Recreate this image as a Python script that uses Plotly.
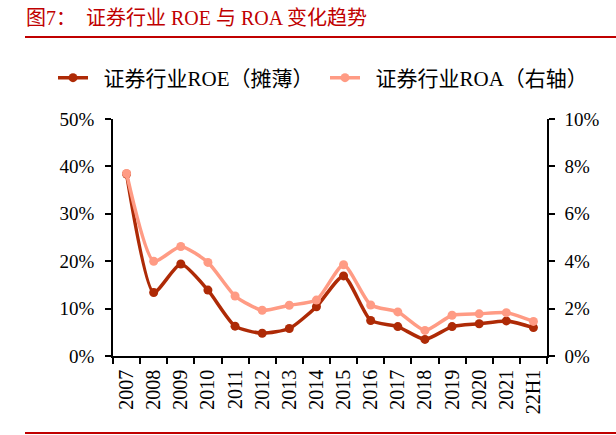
import plotly.graph_objects as go

# ── Data ──────────────────────────────────────────────────────────────────────
YEARS = ["2007", "2008", "2009", "2010", "2011", "2012", "2013", "2014",
         "2015", "2016", "2017", "2018", "2019", "2020", "2021", "22H1"]
ROE = [38.4, 13.4, 19.4, 13.9, 6.3, 4.8, 5.8, 10.4,
       16.9, 7.5, 6.2, 3.5, 6.2, 6.8, 7.4, 6.0]
ROA = [7.7, 4.0, 4.62, 3.95, 2.53, 1.93, 2.14, 2.36,
       3.85, 2.15, 1.86, 1.08, 1.72, 1.78, 1.83, 1.46]

COLOURS = {"ROE": "#AE2A06", "ROA": "#FF9B84", "Title": "#C00000"}

W, H = 616, 435
ML, MR, MT, MB = 113, 69, 119, 79
PW, PH = W - ML - MR, H - MT - MB


def px(x):
    return (x - ML) / PW


def py(y):
    return (H - MB - y) / PH


SERIF = "Liberation Serif, Noto Sans CJK SC, serif"
PAD = "\u00a0\u00a0"

fig = go.Figure()
fig.add_trace(go.Scatter(
    x=YEARS, y=ROA, name=PAD + "证券行业ROA（右轴）", mode="lines+markers", yaxis="y2",
    line=dict(color=COLOURS["ROA"], width=3.5, shape="spline", smoothing=0.6),
    marker=dict(size=9, color=COLOURS["ROA"]),
))
fig.add_trace(go.Scatter(
    x=YEARS, y=ROE, name=PAD + "证券行业ROE（摊薄）", mode="lines+markers",
    line=dict(color=COLOURS["ROE"], width=3.5, shape="spline", smoothing=0.6),
    marker=dict(size=9, color=COLOURS["ROE"]),
))

axis_common = dict(showgrid=False, zeroline=False, showline=True, linecolor="black",
                   linewidth=1.5, ticks="outside", ticklen=6, tickcolor="black",
                   tickwidth=1.5, automargin=False)

fig.update_layout(
    width=W, height=H,
    margin=dict(l=ML, r=MR, t=MT, b=MB, autoexpand=False),
    paper_bgcolor="white", plot_bgcolor="white",
    font=dict(family=SERIF, size=19, color="black"),
    showlegend=True,
    legend=dict(orientation="h", x=px(53), y=py(78), xanchor="left", yanchor="middle",
                font=dict(size=21), traceorder="reversed", entrywidth=227,
                bgcolor="rgba(0,0,0,0)"),
    xaxis=dict(**axis_common, tickson="boundaries", tickangle=-90,
               tickfont=dict(size=20), range=[-0.5, 15.5], ticklabelstandoff=4),
    yaxis=dict(**axis_common, range=[0, 50], dtick=10, ticksuffix="%",
               ticklabelstandoff=7),
    yaxis2=dict(**axis_common, range=[0, 10], dtick=2, ticksuffix="%",
                overlaying="y", side="right", ticklabelstandoff=6),
)

fig.add_annotation(
    text="图7：  证券行业 ROE 与 ROA 变化趋势", xref="paper", yref="paper",
    x=px(24), y=py(18), xanchor="left", yanchor="middle", showarrow=False,
    font=dict(size=20, color=COLOURS["Title"], family=SERIF),
)
fig.add_shape(type="line", xref="paper", yref="paper",
              x0=px(25), x1=px(616), y0=py(37), y1=py(37),
              line=dict(color=COLOURS["Title"], width=2))
fig.add_shape(type="line", xref="paper", yref="paper",
              x0=px(25), x1=px(616), y0=py(433), y1=py(433),
              line=dict(color=COLOURS["Title"], width=2))

fig.write_html(
    "out.html",
    config={"displayModeBar": False},
    post_script="document.body.style.margin='0';document.body.style.overflow='hidden';",
)
